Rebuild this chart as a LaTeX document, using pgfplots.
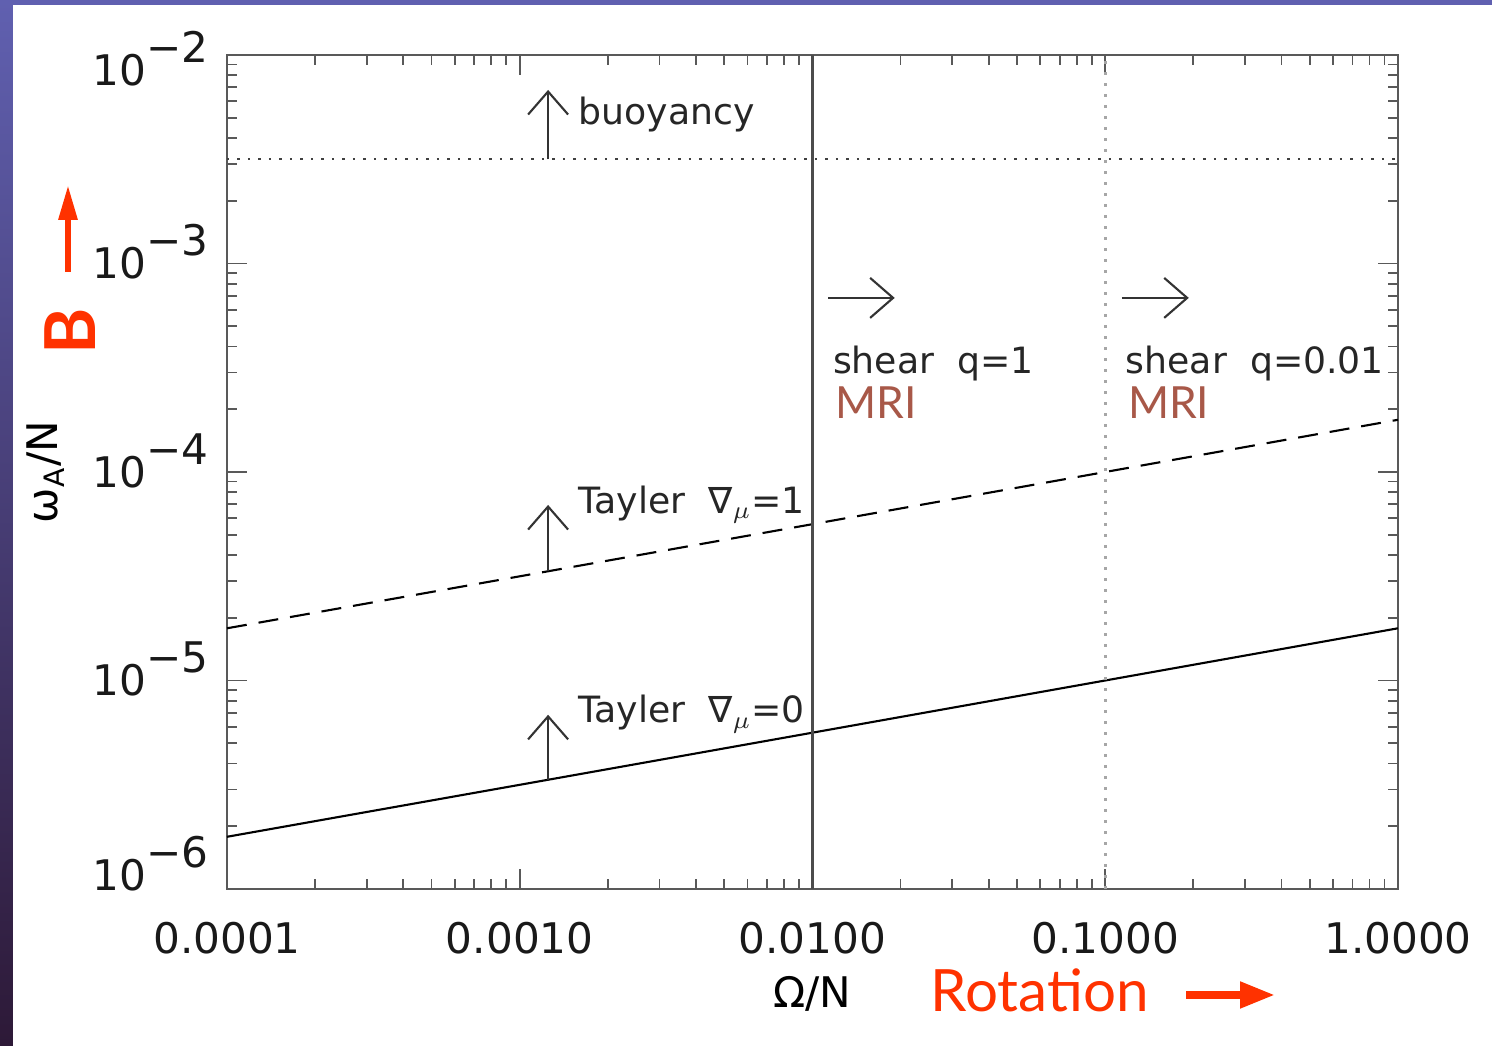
\documentclass[border=0pt]{standalone}
\usepackage{fontspec}
\setmainfont{DejaVu Sans}
\newfontfamily\gill{Lato}
\usepackage{pgfplots}
\pgfplotsset{compat=1.18}
\usetikzlibrary{arrows.meta}

\definecolor{slidered}{RGB}{255,50,0}
\definecolor{mribrown}{RGB}{168,88,72}
\definecolor{bgtop}{RGB}{96,96,176}
\definecolor{bgbot}{RGB}{45,25,55}

\newcommand{\ylab}[1]{10\raisebox{0.55em}{−#1}}

\begin{document}
\begin{tikzpicture}
\useasboundingbox (0,0) rectangle (149.2mm,104.6mm);
% slide background
\shade[top color=bgtop, bottom color=bgbot] (0,0) rectangle (149.2mm,104.6mm);
\fill[white] (1.3mm,0) rectangle (149.2mm,104.1mm);

\begin{axis}[
    at={(22.7mm,15.7mm)}, anchor=south west,
    scale only axis,
    width=117.1mm, height=83.4mm,
    xmode=log, ymode=log,
    xmin=1e-4, xmax=1, ymin=1e-6, ymax=1e-2,
    clip=false,
    xtick={1e-4,1e-3,1e-2,1e-1,1},
    xticklabels={0.0001,0.0010,0.0100,0.1000,1.0000},
    ytick={1e-6,1e-5,1e-4,1e-3,1e-2},
    yticklabels={\raisebox{1.4mm}{\ylab{6}},\ylab{5},\ylab{4},\ylab{3},\raisebox{-1.5mm}{\ylab{2}}},
    minor xtick={2e-4,3e-4,4e-4,5e-4,6e-4,7e-4,8e-4,9e-4,
                 2e-3,3e-3,4e-3,5e-3,6e-3,7e-3,8e-3,9e-3,
                 2e-2,3e-2,4e-2,5e-2,6e-2,7e-2,8e-2,9e-2,
                 0.2,0.3,0.4,0.5,0.6,0.7,0.8,0.9},
    minor ytick={2e-6,3e-6,4e-6,5e-6,6e-6,7e-6,8e-6,9e-6,
                 2e-5,3e-5,4e-5,5e-5,6e-5,7e-5,8e-5,9e-5,
                 2e-4,3e-4,4e-4,5e-4,6e-4,7e-4,8e-4,9e-4,
                 2e-3,3e-3,4e-3,5e-3,6e-3,7e-3,8e-3,9e-3},
    tick align=inside,
    major tick length=2mm, minor tick length=1mm,
    tick style={black!65, line width=0.5pt},
    axis line style={black!65, line width=0.7pt},
    every tick label/.append style={font=\fontsize{12}{12}\selectfont, black!90},
    xticklabel style={yshift=-2.1mm},
    yticklabel style={anchor=base east, xshift=-0.6mm, yshift=-1.55mm},
    xlabel={Ω/N},
    xlabel style={at={(axis description cs:0.5,-0.126)}, anchor=center, font=\fontsize{12}{12}\selectfont},
    ylabel={ω\textsubscript{A}/N},
    ylabel style={at={(axis description cs:-0.155,0.5)}, anchor=center, font=\fontsize{12}{12}\selectfont},
]
    % Tayler, nabla_mu = 0
    \addplot[black, line width=0.6pt] coordinates {
        (1e-4,1.78e-6) (1e-3,3.16e-6) (1e-2,5.62e-6) (1e-1,1e-5) (1,1.78e-5)};
    % Tayler, nabla_mu = 1
    \addplot[black, line width=0.6pt, dash pattern=on 2mm off 1.2mm] coordinates {
        (1e-4,1.78e-5) (1e-3,3.16e-5) (1e-2,5.62e-5) (1e-1,1e-4) (1,1.78e-4)};
    % buoyancy limit
    \addplot[black!75, line width=0.6pt, dash pattern=on 0.25mm off 0.8mm] coordinates {
        (1e-4,3.16e-3) (1,3.16e-3)};
    % shear limits
    \addplot[black!70, line width=0.6pt] coordinates {(0.01,1e-6) (0.01,1e-2)};
    \addplot[black!35, line width=0.8pt, dash pattern=on 0.3mm off 0.8mm] coordinates {(0.1,1e-6) (0.1,1e-2)};

    % arrows and labels
    \draw[black!80, line width=0.6pt, -{Straight Barb[length=2.3mm,width=4mm]}]
        (axis cs:1.25e-3,3.16e-3) -- (axis cs:1.25e-3,6.8e-3);
    \draw[black!80, line width=0.6pt, -{Straight Barb[length=2.3mm,width=4mm]}]
        (axis cs:1.25e-3,3.35e-5) -- (axis cs:1.25e-3,6.95e-5);
    \draw[black!80, line width=0.6pt, -{Straight Barb[length=2.3mm,width=4mm]}]
        (axis cs:1.25e-3,3.35e-6) -- (axis cs:1.25e-3,6.85e-6);
    \draw[black!80, line width=0.6pt, -{Straight Barb[length=2.3mm,width=4mm]}]
        (axis cs:0.0113,6.84e-4) -- (axis cs:0.0191,6.84e-4);
    \draw[black!80, line width=0.6pt, -{Straight Barb[length=2.3mm,width=4mm]}]
        (axis cs:0.114,6.84e-4) -- (axis cs:0.193,6.84e-4);

    \node[anchor=west, inner sep=0, font=\fontsize{10.3}{10.3}\selectfont, black!85]
        at (axis cs:1.58e-3,5.2e-3) {buoyancy};
    \node[anchor=west, inner sep=0, font=\fontsize{10.3}{10.3}\selectfont, black!85]
        at (axis cs:1.58e-3,7.0e-5) {Tayler\ \ ∇$_\mu$=1};
    \node[anchor=west, inner sep=0, font=\fontsize{10.3}{10.3}\selectfont, black!85]
        at (axis cs:1.58e-3,6.9e-6) {Tayler\ \ ∇$_\mu$=0};
    \node[anchor=west, inner sep=0, font=\fontsize{10.3}{10.3}\selectfont, black!85]
        at (axis cs:0.0117,3.3e-4) {shear\ \ q=1};
    \node[anchor=west, inner sep=0, font=\fontsize{10.3}{10.3}\selectfont, black!85]
        at (axis cs:0.117,3.3e-4) {shear\ \ q=0.01};
    \node[anchor=west, inner sep=0, font=\gill\fontsize{12.6}{12.6}\selectfont, mribrown]
        at (axis cs:0.0119,2.14e-4) {MRI};
    \node[anchor=west, inner sep=0, font=\gill\fontsize{12.6}{12.6}\selectfont, mribrown]
        at (axis cs:0.119,2.14e-4) {MRI};
\end{axis}

% slide annotations
\node[rotate=90, inner sep=0, font=\gill\bfseries\fontsize{20}{20}\selectfont, slidered]
    at (7.0mm,71.5mm) {B};
\draw[slidered, line width=1.7pt, -{Triangle[length=3.5mm,width=1.8mm]}]
    (6.8mm,77.4mm) -- (6.8mm,86.1mm);
\node[anchor=base west, inner sep=0, font=\gill\fontsize{16.6}{16.6}\selectfont, slidered]
    at (93.0mm,3.4mm) {Rotation};
\draw[slidered, line width=2.2pt, -{Triangle[length=3.5mm,width=2.5mm]}]
    (118.6mm,5.1mm) -- (127.5mm,5.1mm);
\end{tikzpicture}
\end{document}
